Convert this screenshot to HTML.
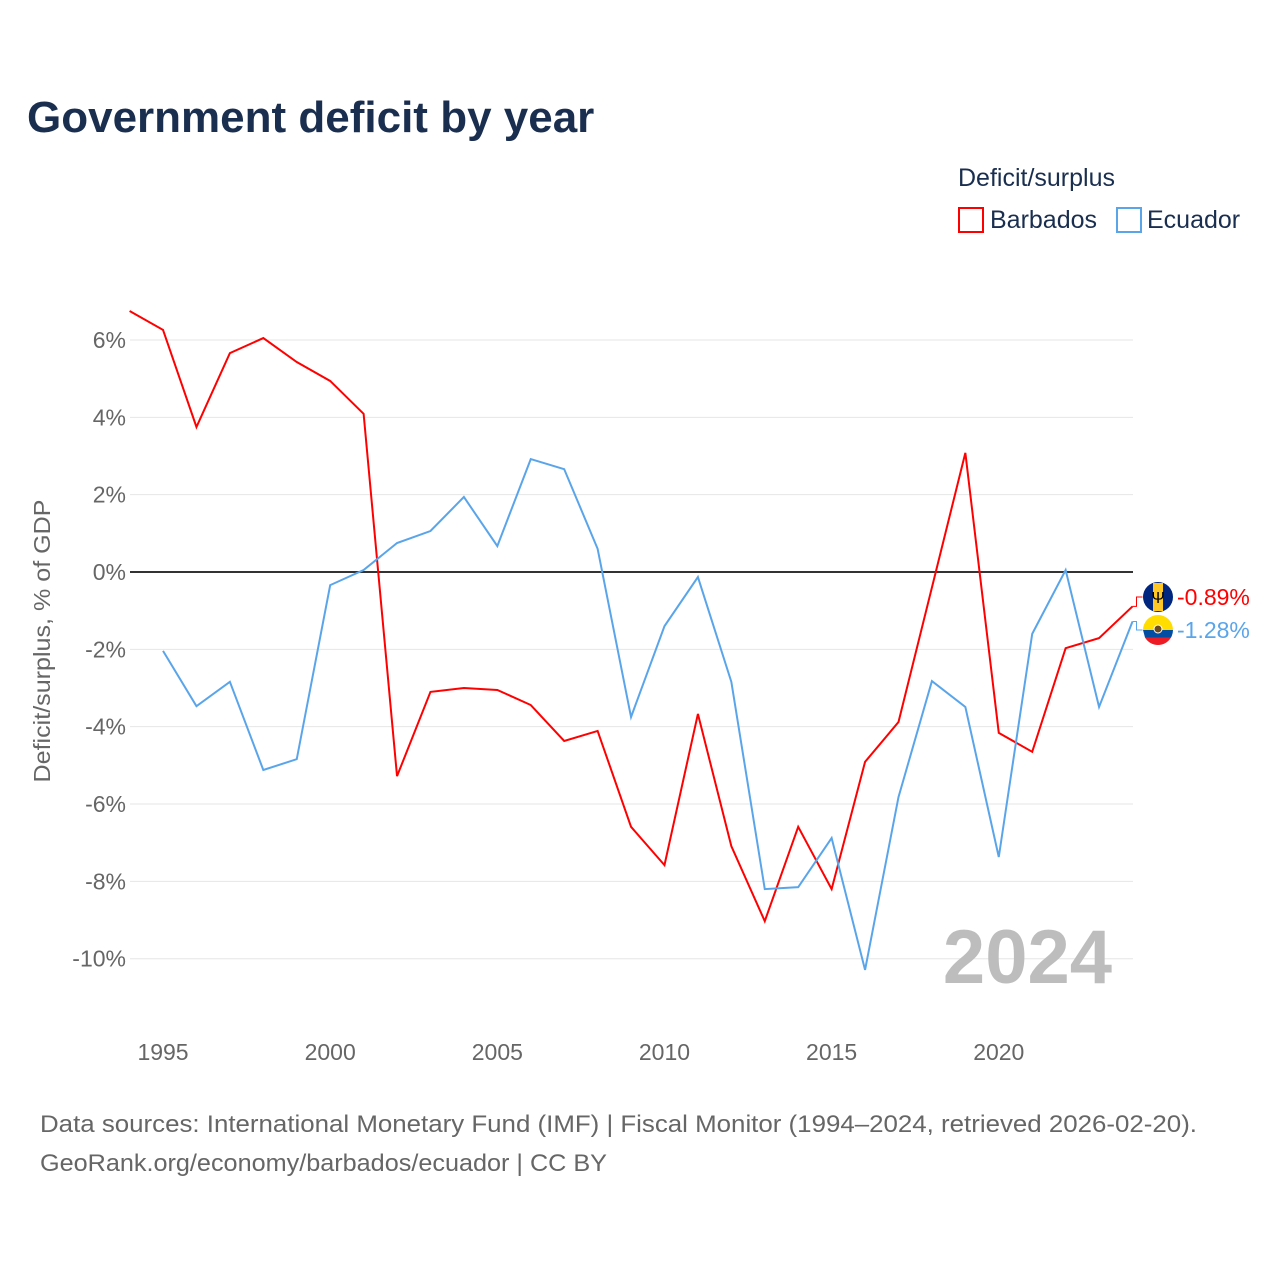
<!DOCTYPE html>
<html><head><meta charset="utf-8">
<style>
body{margin:0;background:#fff;font-family:"Liberation Sans",sans-serif;}
#wrap{position:relative;width:1280px;height:1280px;overflow:hidden;}
</style></head>
<body>
<div id="wrap">
<svg id="chart" width="1280" height="1280">
  <text x="27" y="132" font-size="44" font-weight="bold" fill="#1a2e4f">Government deficit by year</text>
  <text x="958" y="186" font-size="25" fill="#1a2e4f">Deficit/surplus</text>
  <g>
    <rect x="959" y="208" width="24" height="24" fill="none" stroke="#ff0000" stroke-width="2"/>
    <text x="990" y="228" font-size="25" fill="#1a2e4f">Barbados</text>
  </g>
  <g>
    <rect x="1117" y="208" width="24" height="24" fill="none" stroke="#5aa5ea" stroke-width="2"/>
    <text x="1147" y="228" font-size="25" fill="#1a2e4f">Ecuador</text>
  </g>
  <text transform="translate(50,641) rotate(-90)" text-anchor="middle" font-size="23" fill="#666" textLength="283" lengthAdjust="spacingAndGlyphs">Deficit/surplus, % of GDP</text>
  <g id="grid"></g><g id="yticks"></g><g id="xticks"></g>
  <text x="1112" y="983" text-anchor="end" font-size="76" font-weight="bold" fill="#bdbdbd">2024</text>
  <g id="series"></g>
  <text x="40" y="1132" font-size="24" fill="#666" textLength="1157" lengthAdjust="spacingAndGlyphs">Data sources: International Monetary Fund (IMF) | Fiscal Monitor (1994–2024, retrieved 2026-02-20).</text>
  <text x="40" y="1171" font-size="24" fill="#666" textLength="567" lengthAdjust="spacingAndGlyphs">GeoRank.org/economy/barbados/ecuador | CC BY</text>
</svg>
</div>
<script>
const barbadosYears=[1994,1995,1996,1997,1998,1999,2000,2001,2002,2003,2004,2005,2006,2007,2008,2009,2010,2011,2012,2013,2014,2015,2016,2017,2018,2019,2020,2021,2022,2023,2024];
const barbadosValues=[6.75,6.26,3.75,5.66,6.05,5.43,4.94,4.09,-5.28,-3.10,-3.0,-3.05,-3.44,-4.37,-4.11,-6.59,-7.58,-3.67,-7.09,-9.03,-6.59,-8.2,-4.91,-3.88,-0.4,3.08,-4.16,-4.65,-1.97,-1.71,-0.89];
const ecuadorYears=[1995,1996,1997,1998,1999,2000,2001,2002,2003,2004,2005,2006,2007,2008,2009,2010,2011,2012,2013,2014,2015,2016,2017,2018,2019,2020,2021,2022,2023,2024];
const ecuadorValues=[-2.04,-3.47,-2.84,-5.12,-4.84,-0.34,0.05,0.75,1.06,1.94,0.67,2.92,2.66,0.6,-3.75,-1.4,-0.13,-2.84,-8.2,-8.15,-6.88,-10.29,-5.82,-2.82,-3.49,-7.37,-1.6,0.05,-3.49,-1.28];
const yTicks=[6,4,2,0,-2,-4,-6,-8,-10];
const xTicks=[1995,2000,2005,2010,2015,2020];
const X=y=>129.6+(y-1994)*33.43;
const Y=v=>572-v*38.67;
const NS="http://www.w3.org/2000/svg";
function mk(tag,attrs,parent){const e=document.createElementNS(NS,tag);for(const k in attrs)e.setAttribute(k,attrs[k]);parent.appendChild(e);return e;}
const grid=document.getElementById('grid'),yt=document.getElementById('yticks'),xt=document.getElementById('xticks'),ser=document.getElementById('series');
yTicks.forEach(v=>{
  const l=mk('line',{x1:130,x2:1133,y1:Y(v),y2:Y(v),stroke:v===0?'#333':'#e6e6e6','stroke-width':v===0?2:1},grid);
  
  
  const t=mk('text',{x:126,y:Y(v)+8,'text-anchor':'end','font-size':23,fill:'#666'},yt);
  t.textContent=v+'%';
  
  
});
xTicks.forEach(y=>{
  const t=mk('text',{x:X(y),y:1060,'text-anchor':'middle','font-size':23,fill:'#666'},xt);
  t.textContent=y;
  
  
});
function line(years,vals,color,name){
  const p=mk('polyline',{points:years.map((y,i)=>X(y)+','+Y(vals[i])).join(' '),fill:'none',stroke:color,'stroke-width':2},ser);
  
  
}
line(barbadosYears,barbadosValues,'#ff0000','barbados-line');
line(ecuadorYears,ecuadorValues,'#5aa5ea','ecuador-line');
function endLabel(vals,years,color,ly,name,isB){
  const v=vals[vals.length-1],x=X(years[years.length-1]),y=Y(v);
  mk('polyline',{points:`${x},${y} ${x+4},${y} ${x+4},${ly} ${x+10},${ly}`,fill:'none',stroke:color,'stroke-width':1},ser);
  const g=mk('g',{},ser);
  
  
  const cx=1158;
  if(isB){
    mk('circle',{cx:cx,cy:ly,r:15,fill:'#00267f'},g);
    mk('rect',{x:cx-5,y:ly-14,width:10,height:28,fill:'#ffc726'},g);
    const s=mk('text',{x:cx,y:ly+6,'text-anchor':'middle','font-size':16,fill:'#000'},g);s.textContent='Ψ';
  }else{
    mk('path',{d:`M${cx-15},${ly} A15,15 0 0 1 ${cx+15},${ly} Z`,fill:'#ffdd00'},g);
    mk('path',{d:`M${cx-15},${ly} L${cx+15},${ly} A15,15 0 0 1 ${cx+13},${ly+7.5} L${cx-13},${ly+7.5} Z`,fill:'#034ea2'},g);
    mk('path',{d:`M${cx-13},${ly+7.5} L${cx+13},${ly+7.5} A15,15 0 0 1 ${cx-13},${ly+7.5} Z`,fill:'#ed1c24'},g);
    mk('circle',{cx:cx,cy:ly-1,r:4,fill:'#6b4a1c',stroke:'#fff','stroke-width':1},g);
  }
  const t=mk('text',{x:1177,y:ly+8,'font-size':23,fill:color},ser);
  t.textContent=v.toFixed(2)+'%';
  
  
}
endLabel(barbadosValues,barbadosYears,'#ff0000',597,'barbados',true);
endLabel(ecuadorValues,ecuadorYears,'#5aa5ea',630,'ecuador',false);
</script>
</body></html>
